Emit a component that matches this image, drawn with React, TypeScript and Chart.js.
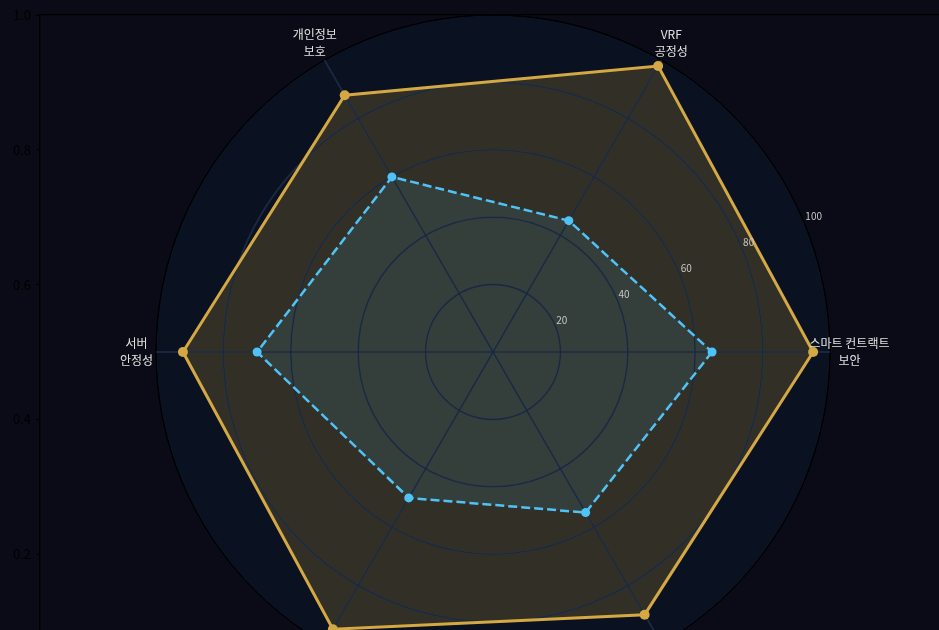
import { useEffect, useRef } from 'react';
import { Chart, registerables } from 'chart.js';

Chart.register(...registerables);

// Categories in clockwise order starting at the right-hand spoke
const categories: string[][] = [
  ['스마트 컨트랙트', '보안'],
  ['네트워크', '확장성'],
  ['토큰', '경제성'],
  ['서버', '안정성'],
  ['개인정보', '보호'],
  ['VRF', '공정성'],
];
const targetScores = [95, 90, 95, 92, 88, 98];
const currentScores = [65, 55, 50, 70, 60, 45];
const radialTicks = [20, 40, 60, 80, 100];
const frameTicks = [0, 0.2, 0.4, 0.6, 0.8, 1.0];

const GOLD = '#d4a843';
const BLUE = '#4fc3f7';
const GRID = '#1b2940';
const FONT = '"Noto Sans CJK KR", "Noto Sans", sans-serif';

const polarTextPlugin = {
  id: 'polarText',
  // fills are drawn first (filler drawTime beforeDatasetsDraw); put the grid over them, under the lines
  beforeDatasetsDraw(chart: any) {
    chart.scales.r.drawGrid(chart.chartArea);
  },
  afterDatasetsDraw(chart: any) {
    const s = chart.scales.r;
    const ctx = chart.ctx;
    ctx.save();
    const ang = (-22.5 * Math.PI) / 180;
    ctx.font = `10px ${FONT}`;
    ctx.fillStyle = '#c8c8c8';
    ctx.textAlign = 'left';
    ctx.textBaseline = 'middle';
    radialTicks.forEach((v) => {
      const d = s.getDistanceFromCenterForValue(v);
      ctx.fillText(String(v), s.xCenter + d * Math.cos(ang) + 1, s.yCenter + d * Math.sin(ang) - 6.5);
    });
    ctx.font = `12px ${FONT}`;
    ctx.fillStyle = '#e2e2e2';
    ctx.textAlign = 'center';
    const lh = 16.7;
    (chart.data.labels as any[]).forEach((lab, i) => {
      const p = s.getPointPosition(i, s.drawingArea + 19.5);
      const lines: string[] = Array.isArray(lab) ? lab : [lab];
      lines.forEach((t, k) => {
        ctx.fillText(t, p.x, p.y + (k - (lines.length - 1) / 2) * lh);
      });
    });
    ctx.restore();
  },
};

export default function App() {
  const ref = useRef<HTMLCanvasElement | null>(null);

  useEffect(() => {
    if (!ref.current) return;
    const chart = new Chart(ref.current, {
      type: 'radar',
      data: {
        labels: categories,
        datasets: [
          {
            label: '현재',
            data: currentScores,
            borderColor: BLUE,
            backgroundColor: 'rgba(79,195,247,0.1)',
            borderWidth: 2.5,
            borderDash: [9, 4],
            pointRadius: 4.5,
            pointBackgroundColor: BLUE,
            pointBorderWidth: 0,
            fill: true,
          },
          {
            label: '목표',
            data: targetScores,
            borderColor: GOLD,
            backgroundColor: 'rgba(212,168,67,0.2)',
            borderWidth: 3,
            pointRadius: 5,
            pointBackgroundColor: GOLD,
            pointBorderWidth: 0,
            fill: true,
          },
        ],
      },
      options: {
        responsive: false,
        devicePixelRatio: 1,
        animation: false,
        layout: { padding: { left: 0, top: 0, right: 40, bottom: 15 } },
        elements: { line: { tension: 0 } },
        plugins: {
          legend: { display: false },
          tooltip: { enabled: false },
          filler: { drawTime: 'beforeDatasetsDraw' },
        } as any,
        scales: {
          r: {
            min: 0,
            max: 100,
            startAngle: 90,
            backgroundColor: '#0a1120',
            grid: {
              circular: true,
              color: (c: any) => (c.tick && c.tick.value === 100 ? '#000000' : GRID),
              lineWidth: (c: any) => (c.tick && c.tick.value === 100 ? 1 : 1.6),
            },
            angleLines: { color: GRID, lineWidth: 1.6 },
            ticks: { display: false, stepSize: 20 },
            pointLabels: { display: false },
          },
          y: {
            type: 'linear',
            position: 'left',
            min: 0,
            max: 1,
            afterBuildTicks: (s: any) => {
              s.ticks = frameTicks.map((value) => ({ value }));
            },
            afterFit: (s: any) => {
              s.width = 40;
            },
            ticks: {
              color: '#000000',
              padding: 5,
              font: { family: FONT, size: 13 },
              callback: (v: any) => Number(v).toFixed(1),
            },
            grid: {
              drawOnChartArea: false,
              drawTicks: true,
              tickLength: 4,
              tickColor: '#000000',
              tickWidth: 1,
            },
            border: { display: true, color: '#000000', width: 1.3 },
          },
          x: {
            type: 'linear',
            position: 'top',
            min: 0,
            max: 1,
            afterFit: (s: any) => {
              s.height = 15;
            },
            ticks: { display: false },
            grid: { drawOnChartArea: false, drawTicks: false },
            border: { display: true, color: '#000000', width: 1.3 },
          },
        } as any,
      },
      plugins: [polarTextPlugin],
    });
    return () => chart.destroy();
  }, []);

  return (
    <div
      style={{
        position: 'fixed',
        left: 0,
        top: 0,
        width: 939,
        height: 630,
        overflow: 'hidden',
        background: '#0b0b18',
      }}
    >
      <canvas ref={ref} width={986} height={704} style={{ display: 'block', width: 986, height: 704 }} />
    </div>
  );
}
